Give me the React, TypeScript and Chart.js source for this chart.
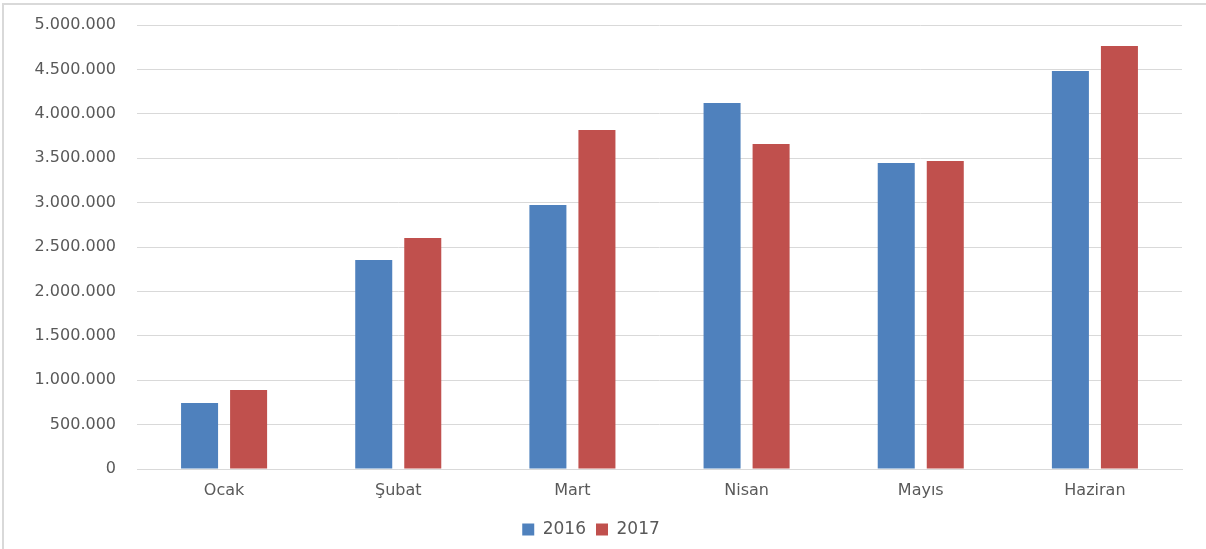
import React, { useEffect, useRef } from "react";
import { Chart, registerables } from "chart.js";

Chart.register(...registerables);

const categories = ["Ocak", "Şubat", "Mart", "Nisan", "Mayıs", "Haziran"];
const series2016 = [743000, 2354000, 2973000, 4122000, 3446000, 4482000];
const series2017 = [890000, 2601000, 3818000, 3660000, 3468000, 4764000];
const yMax = 5000000;
const yStep = 500000;

function fmt(v: number): string {
  return String(Math.round(v)).replace(/\B(?=(\d{3})+(?!\d))/g, ".");
}

export default function App() {
  const ref = useRef<HTMLCanvasElement | null>(null);
  useEffect(() => {
    document.body.style.margin = "0";
    const ctx = ref.current;
    if (!ctx) return;
    const font = { family: "'DejaVu Sans', sans-serif", size: 16 };
    const chart = new Chart(ctx, {
      type: "bar",
      data: {
        labels: categories,
        datasets: [
          {
            label: "2016",
            data: series2016,
            backgroundColor: "#4F81BD",
            categoryPercentage: 0.563,
            barPercentage: 0.755,
          },
          {
            label: "2017",
            data: series2017,
            backgroundColor: "#C0504D",
            categoryPercentage: 0.563,
            barPercentage: 0.755,
          },
        ],
      },
      options: {
        animation: false,
        responsive: false,
        maintainAspectRatio: false,
        layout: { padding: { left: 0, right: 24, top: 25, bottom: 1 } },
        plugins: {
          legend: {
            position: "bottom",
            labels: {
              boxWidth: 12,
              boxHeight: 12,
              color: "#595959",
              font: { family: "'DejaVu Sans', sans-serif", size: 17 },
              padding: 10,
            },
          },
          tooltip: { enabled: false },
        },
        scales: {
          x: {
            grid: { display: false, drawTicks: false },
            border: { display: true, color: "#d9d9d9" },
            ticks: { color: "#595959", font, padding: 12 },
            afterFit: (s: any) => {
              s.height = 42;
            },
          },
          y: {
            min: 0,
            max: yMax,
            grid: { color: "#d9d9d9", drawTicks: false },
            border: { display: false },
            ticks: {
              stepSize: yStep,
              color: "#595959",
              font,
              padding: 21,
              callback: (v: any) => fmt(Number(v)),
            },
            afterFit: (s: any) => {
              s.width = 137;
              s.paddingTop = 10;
              s.paddingBottom = 10;
            },
          },
        },
      },
    });
    return () => chart.destroy();
  }, []);
  return (
    <div style={{ position: "fixed", left: 0, top: 0, width: 1206, height: 549, background: "#fff" }}>
      <div
        style={{
          position: "absolute",
          left: 2,
          top: 3,
          width: 1220,
          height: 560,
          border: "2px solid #d9d9d9",
          boxSizing: "border-box",
        }}
      />
      <canvas ref={ref} width={1206} height={549} style={{ position: "absolute", left: 0, top: 0 }} />
    </div>
  );
}
